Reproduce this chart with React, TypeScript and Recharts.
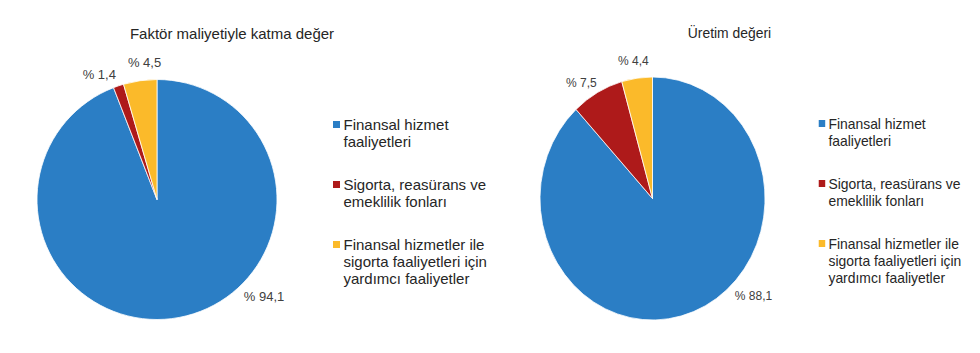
import React from 'react';
import { PieChart, Pie, Cell, Legend } from 'recharts';

const categories = [
  'Finansal hizmet faaliyetleri',
  'Sigorta, reasürans ve emeklilik fonları',
  'Finansal hizmetler ile sigorta faaliyetleri için yardımcı faaliyetler',
];
const katmaDeger = [94.1, 1.4, 4.5];
const uretimDegeri = [88.1, 7.5, 4.4];
const titles = ['Faktör maliyetiyle katma değer', 'Üretim değeri'];

const COLORS = ['#2B7EC5', '#AE1A1A', '#FBBA2A'];
const FONT = '"Liberation Sans", Arial, sans-serif';
const RAD = Math.PI / 180;

const fmt = (v: number) => `% ${v.toFixed(1).replace('.', ',')}`;

// label placement tweaks (deg added to mid angle), Excel "best fit" style
const makeLabel = (nudge: number[]) => (p: any) => {
  const big = p.percent > 0.5;
  const ang = (p.midAngle + nudge[p.index]) * RAD;
  const d = p.outerRadius + (big ? 24.5 : 17.5);
  const x = p.cx + d * Math.cos(-ang);
  const y = p.cy + d * Math.sin(-ang);
  return (
    <text x={x} y={y} textAnchor="middle" dominantBaseline="central" fill="#404040" fontSize={13} fontFamily={FONT}>
      {fmt(p.value)}
    </text>
  );
};

// keep the legend in the original category order
const renderLegend = (props: any) => {
  const items = [...(props.payload || [])].sort(
    (a: any, b: any) => categories.indexOf(a.value) - categories.indexOf(b.value)
  );
  return (
    <div style={{ fontFamily: FONT, fontSize: 15, lineHeight: '17px', color: '#262626', textAlign: 'left' }}>
      {items.map((p: any) => {
        const i = categories.indexOf(p.value);
        return (
          <div key={p.value} style={{ display: 'flex', marginBottom: 26 }}>
            <span style={{ width: 7, height: 7, background: COLORS[i], marginTop: 5, marginRight: 3.5, flexShrink: 0 }} />
            <span style={{ width: 155 }}>{p.value}</span>
          </div>
        );
      })}
    </div>
  );
};

type PanelProps = {
  title: string;
  values: number[];
  cx: number;
  cy: number;
  r: number;
  nudge: number[];
  titleX: number;
  titleY: number;
  legendX: number;
  legendY: number;
};

function Panel({ title, values, cx, cy, r, nudge, titleX, titleY, legendX, legendY }: PanelProps) {
  const data = categories.map((name, i) => ({ name, value: values[i], fill: COLORS[i] }));
  return (
    <div style={{ position: 'relative', width: 530, height: 353 }}>
      <div
        style={{
          position: 'absolute',
          left: titleX - 200,
          width: 400,
          top: titleY - 9,
          lineHeight: '18px',
          textAlign: 'center',
          fontFamily: FONT,
          fontSize: 15,
          color: '#262626',
        }}
      >
        {title}
      </div>
      <PieChart width={530} height={353} margin={{ top: 0, right: 0, bottom: 0, left: 0 }}>
        <Pie
          data={data}
          dataKey="value"
          nameKey="name"
          cx={cx}
          cy={cy}
          outerRadius={r}
          startAngle={90}
          endAngle={-270}
          stroke="#ffffff"
          strokeWidth={0.8}
          label={makeLabel(nudge)}
          labelLine={false}
          isAnimationActive={false}
        >
          {data.map((d, i) => (
            <Cell key={`cell-${i}`} fill={COLORS[i]} />
          ))}
        </Pie>
        <Legend
          layout="vertical"
          align="right"
          verticalAlign="middle"
          content={renderLegend}
          wrapperStyle={{ position: 'absolute', left: legendX, top: legendY, width: 170 }}
        />
      </PieChart>
    </div>
  );
}

export default function App() {
  return (
    <div style={{ position: 'absolute', left: 0, top: 0, width: 980, height: 353, overflow: 'hidden', background: '#fff' }}>
      <div style={{ position: 'absolute', left: 0, top: 0 }}>
        <Panel
          title={titles[0]}
          values={katmaDeger}
          cx={157}
          cy={199.5}
          r={120}
          nudge={[37.2, 6.1, -2.9]}
          titleX={232}
          titleY={34}
          legendX={333}
          legendY={115.5}
        />
      </div>
      {/* right half of the source image is squeezed horizontally */}
      <div style={{ position: 'absolute', left: 490, top: 0, transform: 'scaleX(0.926)', transformOrigin: '0 0' }}>
        <Panel
          title={titles[1]}
          values={uretimDegeri}
          cx={175.5}
          cy={198.5}
          r={121.5}
          nudge={[26.9, 4.2, 0.6]}
          titleX={258.6}
          titleY={33}
          legendX={355}
          legendY={114.5}
        />
      </div>
    </div>
  );
}
